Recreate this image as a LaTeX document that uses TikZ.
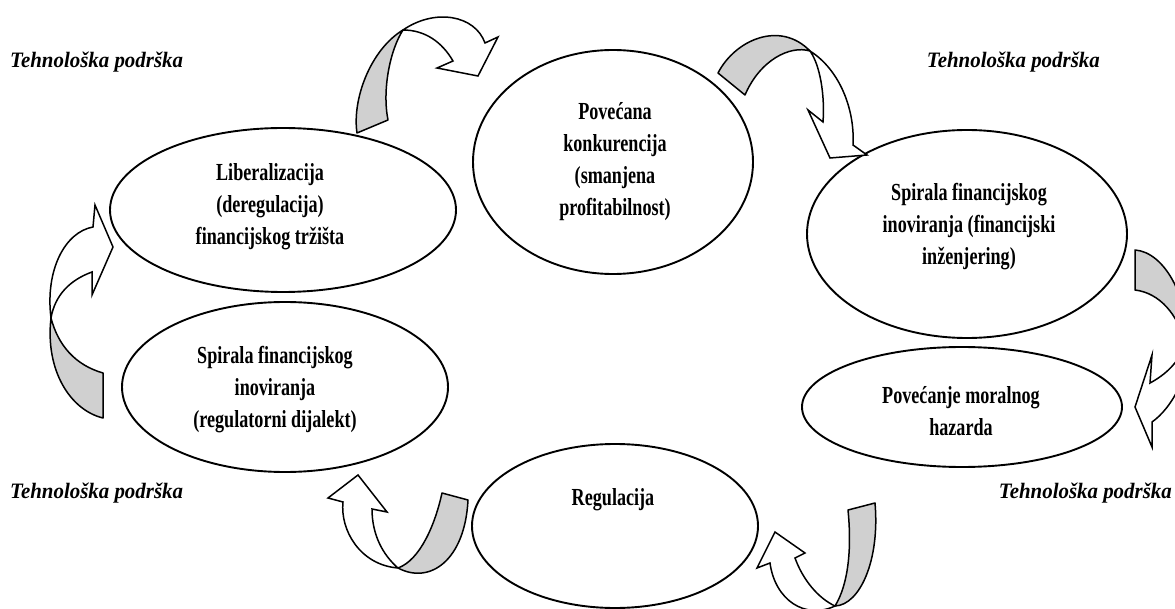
\documentclass[tikz,border=0pt]{standalone}
\usepackage{fontspec}
\setmainfont{Liberation Serif}
\newfontfamily\boxfont[FakeStretch=0.74]{Liberation Serif}
\newfontfamily\labfont[FakeStretch=0.95]{Liberation Serif}
\usetikzlibrary{shapes.geometric}
\definecolor{bandgray}{RGB}{208,208,208}
\tikzset{
  oval/.style={draw, ellipse, line width=1.9pt, inner sep=0pt},
  etext/.style={font={\boxfont\bfseries\fontsize{24.5}{32}\selectfont}, align=center, inner sep=0pt},
  ltext/.style={font={\labfont\bfseries\itshape\fontsize{22}{26}\selectfont}, inner sep=0pt},
  bandback/.style={fill=bandgray, draw, line width=1.5pt, line join=round},
  bandfront/.style={fill=white, draw, line width=1.5pt, line join=miter},
}
\begin{document}
\begin{tikzpicture}[x=1pt, y=-1pt]
\useasboundingbox (0,0) rectangle (1175,609);
\clip (0,0) rectangle (1175,609);
\fill[white] (0,0) rectangle (1175,609);

% ellipses
\node[oval, minimum width=346pt, minimum height=164pt] (e1) at (283,210) {};
\node[oval, minimum width=280pt, minimum height=224pt] (e2) at (613,162) {};
\node[oval, minimum width=320pt, minimum height=208pt] (e3) at (967,234) {};
\node[oval, minimum width=320pt, minimum height=120pt] (e4) at (962,407) {};
\node[oval, minimum width=326pt, minimum height=170pt] (e5) at (285,387) {};
\node[oval, minimum width=286pt, minimum height=164pt] (e6) at (615,526) {};

% texts
\node[etext] (t1) at (270,207) {Liberalizacija\\(deregulacija)\\financijskog tržišta};
\node[etext] (t2) at (615,162) {Povećana\\konkurencija\\(smanjena\\profitabilnost)};
\node[etext] (t3) at (969,227) {Spirala financijskog\\inoviranja (financijski\\inženjering)};
\node[etext] (t4) at (961,411) {Povećanje moralnog\\hazarda};
\node[etext] (t5) at (275,390) {Spirala financijskog\\inoviranja\\(regulatorni dijalekt)};
\node[etext] (t6) at (613,500) {Regulacija};

% labels
\node[ltext, anchor=west] (l1) at (10,62) {Tehnološka podrška};
\node[ltext, anchor=east] (l2) at (1100,62) {Tehnološka podrška};
\node[ltext, anchor=west] (l3) at (10,493) {Tehnološka podrška};
\node[ltext, anchor=east] (l4) at (1172,493) {Tehnološka podrška};

% arrow 1 (top left)
\draw[bandback] (357,133) .. controls (352,100) and (370,50) .. (403,30)
  .. controls (390,50) and (382,90) .. (388,120) -- cycle;
\draw[bandfront] (403,30) .. controls (435,8) and (475,15) .. (485,43) -- (498,37) -- (478,76)
  -- (437,68) -- (453,61) .. controls (442,42) and (425,30) .. (403,30) -- cycle;

% arrow 2 (top right)
\draw[bandback] (718,73) .. controls (735,40) and (780,20) .. (810,51)
  .. controls (790,45) and (760,60) .. (745,95) -- cycle;
\draw[bandfront] (810,51) .. controls (840,70) and (855,110) .. (853,145) -- (867,155) -- (830,158)
  -- (808,110) -- (823,122) .. controls (825,95) and (820,65) .. (810,51) -- cycle;

% arrow 3 (right)
\draw[bandback] (1135,250) .. controls (1165,252) and (1190,300) .. (1185,343)
  .. controls (1178,315) and (1160,293) .. (1135,290) -- cycle;
\draw[bandfront] (1185,343) .. controls (1192,372) and (1172,408) .. (1152,422) -- (1152,447) -- (1135,407)
  -- (1152,355) -- (1150,383) .. controls (1165,375) and (1180,362) .. (1185,343) -- cycle;

% arrow 4 (left)
\draw[bandback] (103,418) .. controls (70,410) and (45,370) .. (51,318)
  .. controls (58,345) and (75,365) .. (103,373) -- cycle;
\draw[bandfront] (51,318) .. controls (45,270) and (65,232) .. (93,227) -- (95,205) -- (113,247)
  -- (92,295) -- (92,272) .. controls (70,280) and (55,295) .. (51,318) -- cycle;

% arrow 5 (bottom left)
\draw[bandback] (442,493) .. controls (435,525) and (420,560) .. (398,568)
  .. controls (430,585) and (465,560) .. (468,500) -- cycle;
\draw[bandfront] (398,568) .. controls (360,565) and (340,530) .. (343,502) -- (328,498) -- (358,475)
  -- (387,512) -- (372,509) .. controls (372,535) and (383,555) .. (398,568) -- cycle;

% arrow 6 (bottom right)
\draw[bandback] (848,510) .. controls (852,550) and (848,585) .. (835,606)
  .. controls (860,605) and (880,560) .. (875,503) -- cycle;
\draw[bandfront] (835,606) .. controls (805,620) and (775,600) .. (770,563) -- (757,568) -- (775,532)
  -- (805,553) -- (795,558) .. controls (803,580) and (818,598) .. (835,606) -- cycle;
\end{tikzpicture}
\end{document}
